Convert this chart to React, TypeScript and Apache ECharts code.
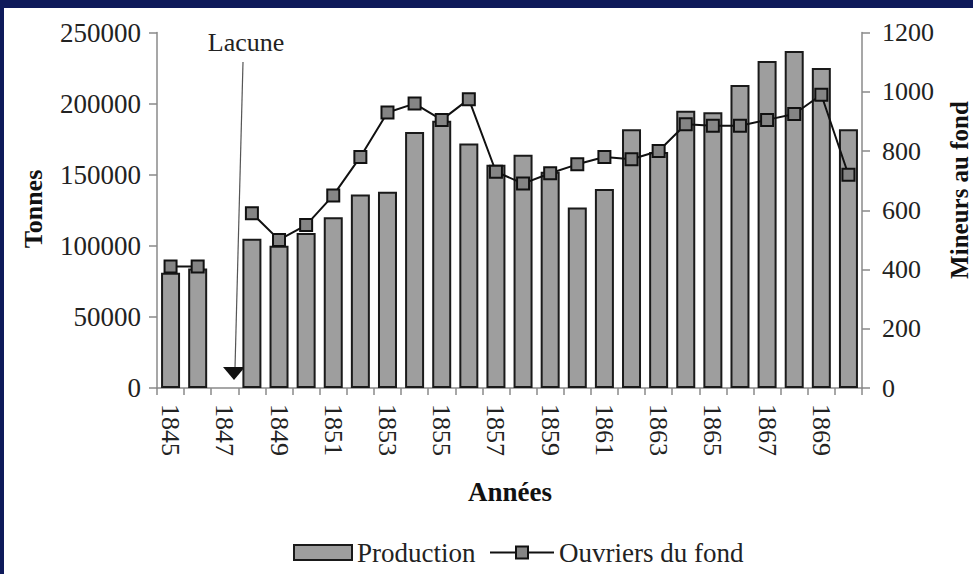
import React, { useEffect, useRef } from "react";
import * as echarts from "echarts";

const years = ["1845","1846","1847","1848","1849","1850","1851","1852","1853","1854","1855","1856","1857","1858","1859","1860","1861","1862","1863","1864","1865","1866","1867","1868","1869","1870"];
const production = [81000, 84000, null, 105000, 100000, 109000, 120000, 136000, 138000, 180000, 188000, 172000, 157000, 164000, 152000, 127000, 140000, 182000, 166000, 195000, 194000, 213000, 230000, 237000, 225000, 182000];
const ouvriers = [410, 410, null, 590, 500, 550, 650, 780, 930, 960, 905, 975, 730, 690, 725, 755, 780, 772, 800, 890, 885, 885, 905, 925, 990, 720];

const FONT = "'Liberation Serif', 'DejaVu Serif', serif";
const TXT = "#222";

export default function App() {
  const ref = useRef<HTMLDivElement>(null);
  useEffect(() => {
    if (!ref.current) return;
    const chart = echarts.init(ref.current, null, { renderer: "svg" });
    chart.setOption({
      animation: false,
      backgroundColor: "#0e1a5a",
      textStyle: { fontFamily: FONT },
      grid: { left: 157, right: 111, top: 32.5, bottom: 186, containLabel: false },
      xAxis: {
        type: "category",
        data: years,
        boundaryGap: true,
        axisLine: { lineStyle: { color: "#8a8a8a", width: 1.5 } },
        axisTick: { show: true, interval: 0, length: 7, lineStyle: { color: "#8a8a8a", width: 1.5 } },
        axisLabel: { interval: 1, rotate: -90, margin: 16, fontSize: 26, color: TXT, fontFamily: FONT },
        splitLine: { show: false },
      },
      yAxis: [
        {
          type: "value",
          min: 0,
          max: 250000,
          interval: 50000,
          position: "left",
          axisLine: { show: true, lineStyle: { color: "#8a8a8a", width: 1.5 } },
          axisTick: { show: true, length: 8, lineStyle: { color: "#8a8a8a", width: 1.5 } },
          axisLabel: { margin: 16, fontSize: 27, color: TXT, fontFamily: FONT, formatter: (v: number) => String(v) },
          splitLine: { show: false },
        },
        {
          type: "value",
          min: 0,
          max: 1200,
          interval: 200,
          position: "right",
          axisLine: { show: true, lineStyle: { color: "#8a8a8a", width: 1.5 } },
          axisTick: { show: true, length: 8, lineStyle: { color: "#8a8a8a", width: 1.5 } },
          axisLabel: { margin: 20, fontSize: 26, color: TXT, fontFamily: FONT, formatter: (v: number) => String(v) },
          splitLine: { show: false },
        },
      ],
      legend: [
        {
          data: [{ name: "Production", icon: "rect" }],
          left: 288,
          top: 534,
          itemWidth: 58,
          itemHeight: 15,
          textStyle: { fontSize: 27, color: TXT, fontFamily: FONT },
        },
        {
          data: ["Ouvriers du fond"],
          left: 484,
          top: 534,
          itemWidth: 64,
          itemHeight: 15,
          textStyle: { fontSize: 27, color: TXT, fontFamily: FONT },
        },
      ],
      graphic: [
        { type: "rect", z: -10, shape: { x: 4, y: 8, width: 969, height: 566 }, style: { fill: "#ffffff" } },
        { type: "text", x: 246, y: 42, style: { text: "Lacune", font: `26px ${FONT}`, fill: TXT, align: "center", verticalAlign: "middle" } },
        { type: "line", shape: { x1: 243, y1: 62, x2: 235, y2: 368 }, style: { stroke: "#555", lineWidth: 1.2 } },
        { type: "polygon", shape: { points: [[223, 367], [245, 367], [234, 380]] }, style: { fill: "#111" } },
        { type: "text", x: 510, y: 492, style: { text: "Années", font: `bold 27px ${FONT}`, fill: "#111", align: "center", verticalAlign: "middle" } },
        { type: "text", x: 33, y: 209, rotation: Math.PI / 2, style: { text: "Tonnes", font: `bold 26px ${FONT}`, fill: "#111", align: "center", verticalAlign: "middle" } },
        { type: "text", x: 959, y: 190, rotation: Math.PI / 2, style: { text: "Mineurs au fond", font: `bold 25px ${FONT}`, fill: "#111", align: "center", verticalAlign: "middle" } },
      ],
      series: [
        {
          name: "Production",
          type: "bar",
          yAxisIndex: 0,
          data: production,
          barWidth: 19,
          itemStyle: { color: "#9e9e9e", borderColor: "#1a1a1a", borderWidth: 2 },
        },
        {
          name: "Ouvriers du fond",
          type: "line",
          yAxisIndex: 1,
          data: ouvriers,
          connectNulls: false,
          symbol: "rect",
          symbolSize: 12,
          lineStyle: { color: "#111", width: 2 },
          itemStyle: { color: "#858585", borderColor: "#111", borderWidth: 2 },
          z: 5,
        },
      ],
    });
    return () => chart.dispose();
  }, []);
  return <div ref={ref} style={{ position: "fixed", left: 0, top: 0, width: 973, height: 574 }} />;
}
